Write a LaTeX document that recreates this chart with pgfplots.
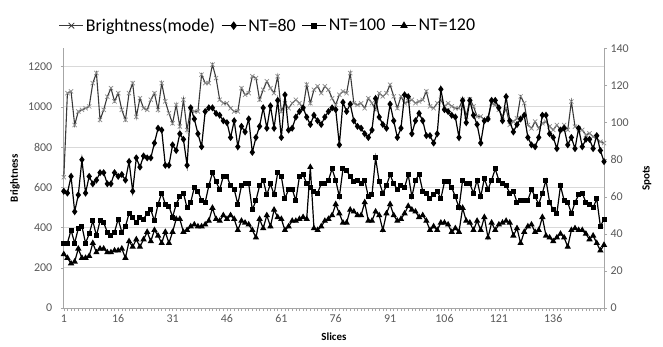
\documentclass[border=0pt]{standalone}
\usepackage{fontspec}
\setmainfont{Carlito}
\usepackage{pgfplots}
\usepackage{pgfplotstable}
\pgfplotsset{compat=1.18}
\definecolor{gridgray}{HTML}{D9D9D9}
\definecolor{axgray}{HTML}{A6A6A6}
\definecolor{ticktext}{HTML}{595959}
\definecolor{brline}{HTML}{3A3A3A}
\definecolor{brmark}{HTML}{8C8C8C}

\pgfplotstableread{
s b n80 n100 n120
1 650 63 35 29
2 1068 62 35 27
3 1077 71 42 24
4 910 52 35 25
5 977 61 43 32
6 985 80 44 27
7 993 62 35 27
8 1002 71 40 28
9 1118 67 47 35
10 1168 69 39 30
11 935 73 47 32
12 985 73 46 32
13 1050 67 41 30
14 1093 67 39 30
15 1027 73 41 31
16 1068 71 48 31
17 985 72 41 32
18 935 69 44 27
19 1068 79 51 36
20 1118 63 49 33
21 950 81 46 37
22 1043 76 49 33
23 993 82 48 37
24 985 81 51 41
25 1035 81 53 36
26 1068 89 47 42
27 985 97 56 39
28 1118 96 62 35
29 1027 77 56 41
30 968 77 55 35
31 918 88 49 41
32 1010 85 56 48
33 902 94 60 48
34 1035 91 62 41
35 885 77 54 42
36 993 108 57 44
37 977 102 65 45
38 977 94 63 44
39 1160 87 58 44
40 1118 106 57 45
41 1118 108 66 47
42 1210 108 73 54
43 1143 105 68 48
44 1035 104 64 47
45 1018 101 71 50
46 1018 100 71 48
47 993 92 66 50
48 977 101 64 48
49 977 87 56 42
50 1093 98 66 47
51 1060 95 67 46
52 1068 102 67 45
53 1152 84 53 42
54 1143 92 58 38
55 1035 98 66 48
56 1085 108 69 43
57 1127 97 61 50
58 1093 109 67 44
59 1068 97 61 53
60 1152 112 73 49
61 977 92 71 48
62 1018 115 59 42
63 993 96 64 44
64 1018 97 64 47
65 1035 103 58 47
66 1018 106 71 48
67 993 108 72 49
68 1110 103 67 48
69 1018 99 65 76
70 1085 104 63 43
71 1102 101 62 42
72 1068 99 67 44
73 1102 103 67 47
74 1085 106 69 48
75 1043 108 75 50
76 1010 107 69 56
77 1060 88 60 51
78 1077 111 75 46
79 1068 106 74 46
80 1168 110 71 53
81 1018 101 68 52
82 1010 98 69 50
83 1018 97 67 50
84 993 94 69 57
85 1043 92 60 47
86 1018 96 61 47
87 985 113 81 52
88 1068 103 68 50
89 1052 99 62 42
90 1068 97 66 51
91 1110 110 72 56
92 1052 101 67 50
93 993 92 64 47
94 1052 97 66 48
95 1018 115 65 51
96 1027 114 72 55
97 1035 94 60 53
98 1018 101 69 52
99 1027 105 72 49
100 1035 101 63 50
101 1077 93 62 47
102 1002 93 59 42
103 993 89 61 44
104 1018 94 63 42
105 1035 118 59 46
106 1002 107 68 46
107 1018 106 68 45
108 1002 104 65 41
109 993 103 60 43
110 993 92 54 41
111 1035 112 69 54
112 952 100 67 47
113 1038 112 67 46
114 1002 104 62 42
115 952 99 69 47
116 952 89 60 42
117 935 101 70 49
118 943 102 64 38
119 1018 112 69 46
120 1010 112 75 42
121 985 108 69 45
122 952 101 67 46
123 993 114 66 47
124 910 101 62 46
125 927 95 63 39
126 943 99 57 43
127 1052 102 58 35
128 1018 104 58 41
129 910 92 58 44
130 893 88 64 45
131 927 87 60 41
132 893 92 56 42
133 918 104 62 49
134 927 104 69 39
135 902 94 57 38
136 885 92 53 36
137 910 86 51 38
138 885 96 66 40
139 910 97 58 38
140 885 88 57 33
141 1027 92 51 42
142 902 86 57 43
143 893 97 61 42
144 885 87 62 42
145 860 91 57 40
146 868 91 56 37
147 852 86 54 39
148 843 93 59 35
149 827 85 44 31
150 820 79 48 34
}\data

\pgfplotsset{
  common/.style={
    at={(63.8bp,39bp)}, anchor=south west,
    scale only axis, width=540.2bp, height=259.5bp,
    xmin=1, xmax=150, ymin=0,
    axis line style={draw=axgray, line width=0.8bp, -},
    tick align=outside, major tick length=3bp, minor tick length=3bp,
    tick style={draw=axgray, line width=0.5bp},
    ticklabel style={font=\fontsize{12}{13}\selectfont, text=ticktext},
    /pgf/number format/assume math mode=true,
    /pgf/number format/1000 sep={},
    label style={font=\bfseries\fontsize{11}{12}\selectfont},
    clip=false,
  },
  legend image code/.code={\draw[mark repeat=2,mark phase=2,#1] plot coordinates {(0bp,0bp) (12bp,0bp) (24bp,0bp)};},
}

\begin{document}
\begin{tikzpicture}
\path[use as bounding box] (0,0) rectangle (663bp,347bp);
\begin{axis}[common,
  ymax=1290,
  axis x line*=bottom, axis y line*=left,
  xtick={1,16,...,136}, minor xtick={1,...,150},
  ytick={0,200,...,1200},
  yticklabel style={xshift=-5bp},
  ymajorgrids, grid style={draw=gridgray, line width=1bp},
  xlabel={Slices}, ylabel={Brightness},
  xlabel style={at={(axis description cs:0.5,-0.1118)}, anchor=center},
  ylabel style={at={(axis description cs:-0.0903,0.5)}, anchor=center},
]
\addplot[brline, line width=1.1bp, mark=x, mark size=3bp, mark options={brmark, line width=0.7bp}] table[x=s,y=b]{\data};
\end{axis}
\begin{axis}[common,
  ymax=140,
  axis x line=none, axis y line*=right,
  ytick={0,20,...,140},
  ylabel={Spots},
  ylabel style={at={(axis description cs:1.0796,0.5)}, anchor=center},
  legend columns=4,
  legend style={draw=none, fill=none, at={(axis description cs:0.378,1.088)}, anchor=center,
    font=\fontsize{18}{20}\selectfont, inner sep=0bp,
    /tikz/every even column/.append style={column sep=4bp}},
]
\addlegendimage{brline, line width=1bp, mark=x, mark size=4bp, mark options={brline, line width=0.8bp}}
\addlegendentry{Brightness(mode)}
\addlegendimage{black, line width=1.2bp, mark=diamond*, mark size=3.4bp}
\addlegendentry{NT=80}
\addlegendimage{black, line width=1.2bp, mark=square*, mark size=2.4bp}
\addlegendentry{NT=100}
\addlegendimage{black, line width=1.2bp, mark=triangle*, mark size=3.2bp}
\addlegendentry{NT=120}
\addplot[black, line width=1.2bp, mark=diamond*, mark size=2.6bp, forget plot] table[x=s,y=n80]{\data};
\addplot[black, line width=1.2bp, mark=square*, mark size=1.9bp, forget plot] table[x=s,y=n100]{\data};
\addplot[black, line width=1.2bp, mark=triangle*, mark size=2.5bp, forget plot] table[x=s,y=n120]{\data};
\end{axis}
\end{tikzpicture}
\end{document}
